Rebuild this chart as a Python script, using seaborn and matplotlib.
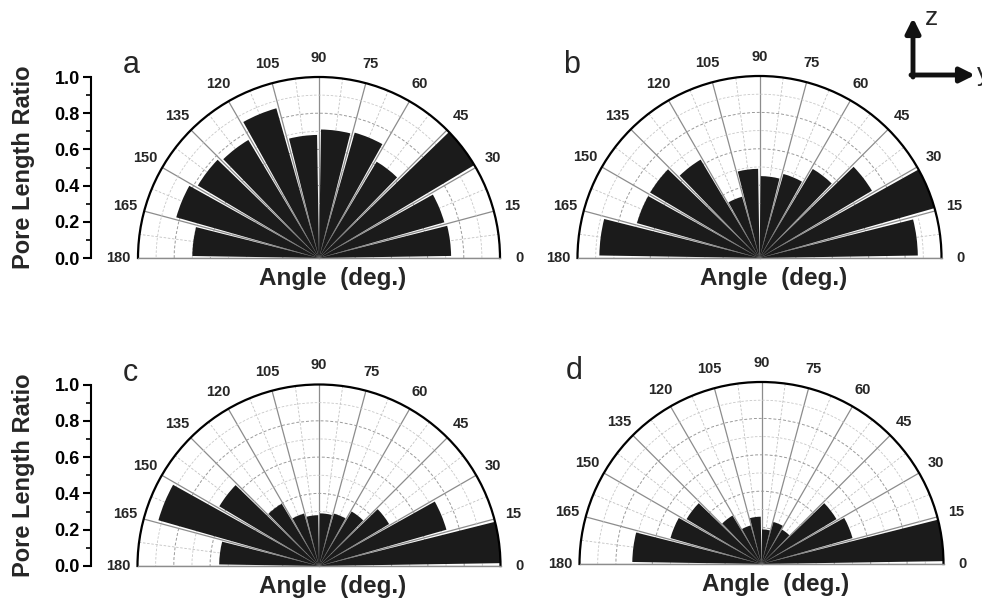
import numpy as np
import pandas as pd
import seaborn as sns
import matplotlib.pyplot as plt

# centres of the 15 degree angle bins
angles = [7.5, 22.5, 37.5, 52.5, 67.5, 82.5, 97.5, 112.5, 127.5, 142.5, 157.5, 172.5]

# pore length ratio per bin, one list per panel
ratio_a = [0.73, 0.72, 1.00, 0.62, 0.72, 0.71, 0.68, 0.86, 0.76, 0.78, 0.82, 0.70]
ratio_b = [0.87, 1.00, 0.72, 0.57, 0.48, 0.45, 0.49, 0.35, 0.63, 0.70, 0.70, 0.88]
ratio_c = [1.00, 0.73, 0.45, 0.35, 0.30, 0.29, 0.28, 0.30, 0.40, 0.64, 0.92, 0.55]
ratio_d = [1.00, 0.52, 0.48, 0.22, 0.24, 0.19, 0.26, 0.22, 0.31, 0.48, 0.52, 0.71]

panels = ["a", "b", "c", "d"]
tick_angles = list(range(0, 181, 15))
ratio_ticks = [0.0, 0.2, 0.4, 0.6, 0.8, 1.0]

df = pd.DataFrame({
    "panel": np.repeat(panels, len(angles)),
    "angle": angles * len(panels),
    "ratio": ratio_a + ratio_b + ratio_c + ratio_d,
})

# Styles
sns.set_theme(style="white")
plt.rcParams["font.family"] = ["Liberation Sans", "DejaVu Sans"]


def rose(data, color=None, **kws):
    ax = plt.gca()
    ax.bar(np.deg2rad(data["angle"]), data["ratio"], width=np.deg2rad(13.2),
           color="#1b1b1b", edgecolor="none", zorder=2)


g = sns.FacetGrid(df, col="panel", col_wrap=2, height=2.995, aspect=1.6394,
                  subplot_kws={"projection": "polar"},
                  sharex=False, sharey=False, despine=False)
g.map_dataframe(rose)
fig = g.figure
W, H = 982, 599

# half discs in pixels: centre x, centre (baseline) y, radius
boxes = {"a": (319, 258, 181), "b": (759.5, 258, 182),
         "c": (319, 566, 181.5), "d": (761.5, 564, 182)}

for ax, panel in zip(g.axes.flat, panels):
    cx, cy, r = boxes[panel]
    ax.set_title("")
    # the half disc sits in the middle of a square box
    ax.set_position([(cx - r) / W, (H - cy - r / 2) / H, 2 * r / W, 2 * r / H])
    ax.set_thetamin(0)
    ax.set_thetamax(180)
    ax.set_ylim(0, 1)
    ax.set_thetagrids(tick_angles, [str(t) for t in tick_angles],
                      fontsize=10.5, fontweight="bold")
    ax.set_xticks(np.deg2rad(np.arange(7.5, 180, 15)), minor=True)
    ax.set_yticks([0.2, 0.4, 0.6, 0.8])
    ax.set_yticks([0.1, 0.3, 0.5, 0.7, 0.9], minor=True)
    ax.set_yticklabels([])
    ax.grid(which="major", axis="x", color="#8c8c8c", lw=0.9, ls="-")
    ax.grid(which="minor", axis="x", color="#c2c2c2", lw=0.6, ls=(0, (3, 2)))
    ax.grid(which="major", axis="y", color="#9a9a9a", lw=0.7, ls=(0, (3, 2)))
    ax.grid(which="minor", axis="y", color="#c8c8c8", lw=0.6, ls=(0, (3, 2)))
    ax.tick_params(axis="x", which="major", pad=1)
    ax.set_axisbelow(True)
    ax.spines["polar"].set(color="black", lw=1.6)
    ax.spines["start"].set(color="#8c8c8c", lw=1.0)
    ax.spines["end"].set(color="#8c8c8c", lw=1.0)
    fig.text((cx + 14) / W, 1 - (cy + 21) / H, "Angle  (deg.)",
             ha="center", va="center", fontsize=17.5, fontweight="bold")
    fig.text((cx - 196) / W, 1 - (cy - 185) / H, panel, ha="left", va="baseline",
             fontsize=22)

# left ratio scales for the two left panels
for panel in ["a", "c"]:
    cx, cy, r = boxes[panel]
    yax = fig.add_axes([91 / W, (H - cy) / H, 0.002, r / H])
    yax.set_ylim(0, 1)
    yax.set_xticks([])
    yax.set_yticks(ratio_ticks)
    yax.set_yticks(np.arange(0.1, 1.0, 0.2), minor=True)
    yax.set_yticklabels([f"{t:.1f}" for t in ratio_ticks], fontweight="bold")
    for s in ["top", "right", "bottom"]:
        yax.spines[s].set_visible(False)
    yax.spines["left"].set(color="black", lw=1.5)
    yax.tick_params(axis="y", which="major", left=True, direction="out",
                    length=6, width=1.5, labelsize=13, pad=2, colors="black")
    yax.tick_params(axis="y", which="minor", left=True, direction="out",
                    length=3.5, width=1.2, colors="black")
    yax.set_ylabel("Pore Length Ratio", fontsize=17, fontweight="bold", labelpad=14)
    yax.patch.set_visible(False)

# orientation arrows
arrow = dict(arrowstyle="-|>", lw=3.5, color="#111111", mutation_scale=22,
             shrinkA=0, shrinkB=0)
fig.axes[0].annotate("", xy=(913 / W, 1 - 18 / H), xytext=(913 / W, 1 - 77 / H),
                     xycoords="figure fraction", textcoords="figure fraction",
                     arrowprops=arrow)
fig.axes[0].annotate("", xy=(975 / W, 1 - 75 / H), xytext=(911 / W, 1 - 75 / H),
                     xycoords="figure fraction", textcoords="figure fraction",
                     arrowprops=arrow)
fig.text(925 / W, 1 - 25 / H, "z", ha="left", va="baseline", fontsize=19)
fig.text(977 / W, 1 - 81 / H, "y", ha="left", va="baseline", fontsize=19)

plt.savefig("out.png", dpi=100)
